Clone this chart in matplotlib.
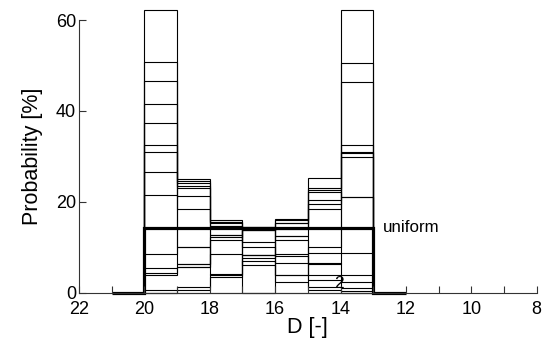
import matplotlib
matplotlib.use("Agg")
import matplotlib.pyplot as plt
import numpy as np

plt.rcParams['font.family'] = ['Liberation Sans', 'DejaVu Sans']

# bin edges of D (descending, axis is reversed)
edges = [20, 19, 18, 17, 16, 15, 14, 13]
uniform_edges = [21, 20, 19, 18, 17, 16, 15, 14, 13, 12]
uniform_values = [0, 14.29, 14.29, 14.29, 14.29, 14.29, 14.29, 14.29, 0]

# probability [%] in bins 20-19, 19-18, ..., 14-13
dists = [
    [62.3, 25.0, 12.7, 0.0, 0.0, 0.0, 0.0],
    [0.0, 0.0, 0.0, 0.0, 12.5, 25.2, 62.3],
    [50.7, 24.6, 15.6, 6.1, 2.4, 0.6, 0.0],
    [0.0, 0.7, 3.4, 7.6, 15.3, 22.5, 50.5],
    [46.6, 24.2, 15.3, 8.3, 3.9, 1.3, 0.4],
    [0.7, 1.3, 4.1, 8.3, 16.2, 23.0, 46.4],
    [41.5, 23.5, 14.7, 10.0, 6.5, 2.8, 1.0],
    [37.3, 23.0, 14.2, 11.2, 8.1, 3.8, 2.4],
    [32.5, 10.1, 3.9, 7.0, 3.9, 10.1, 32.5],
    [31.0, 6.3, 8.5, 8.4, 8.5, 6.3, 31.0],
    [26.6, 21.3, 16.0, 14.0, 11.6, 6.5, 4.0],
    [21.5, 18.4, 15.6, 14.5, 12.5, 8.8, 8.7],
    [3.8, 5.7, 12.3, 13.8, 14.1, 20.4, 29.9],
    [5.4, 6.3, 14.6, 14.5, 16.0, 22.2, 21.0],
    [8.6, 10.1, 12.7, 13.8, 14.2, 19.6, 21.0],
    [4.4, 5.7, 11.6, 13.8, 15.3, 18.4, 30.8],
]

fig = plt.figure(figsize=(5.55, 3.43), dpi=100)
ax = fig.add_axes([0.1423, 0.1466, 0.8247, 0.795])

for d in dists:
    ax.stairs(d, edges, baseline=0, fill=False, color='black', lw=0.8, clip_on=False)

ax.stairs(uniform_values, uniform_edges, baseline=None, fill=False,
          color='black', lw=2.3, clip_on=False)

ax.text(12.7, 14.3, 'uniform', fontsize=12.2, ha='left', va='center')
ax.text(14.06, 2.0, '2', fontsize=12.5, ha='center', va='center')

ax.set_xlim(22, 8)
ax.set_ylim(0, 60)
ax.set_xticks(np.arange(22, 7, -2))
ax.set_xticks(np.arange(21, 8, -2), minor=True)
ax.set_yticks([0, 20, 40, 60])
ax.tick_params(axis='both', which='both', direction='in', length=5, width=0.8,
               labelsize=13, color='#333333')
ax.tick_params(axis='x', pad=6)
ax.tick_params(axis='y', pad=2)
for s in ['top', 'right']:
    ax.spines[s].set_visible(False)
for s in ['left', 'bottom']:
    ax.spines[s].set_linewidth(0.8)
    ax.spines[s].set_color('#333333')

ax.set_xlabel('D [-]', fontsize=15.5, labelpad=-1)
ax.set_ylabel('Probability [%]', fontsize=15.5, labelpad=9)

fig.savefig('out.png', dpi=100)
